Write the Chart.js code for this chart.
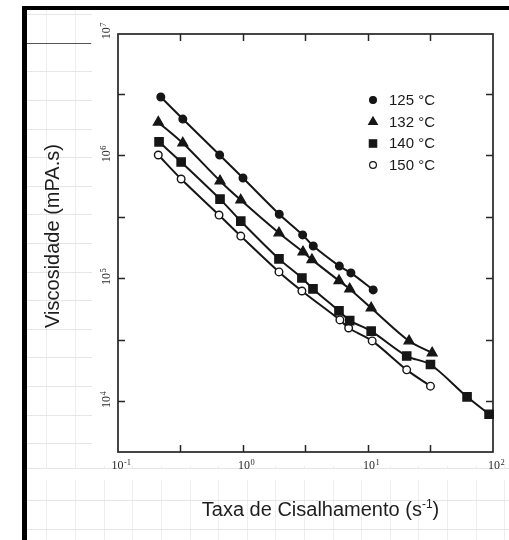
<!DOCTYPE html>
<html>
<head>
<meta charset="utf-8">
<script src="https://cdn.jsdelivr.net/npm/chart.js@4/dist/chart.umd.min.js"></script>
<style>
  html, body { margin: 0; padding: 0; background: #fff; }
  #page { position: relative; width: 509px; height: 540px; overflow: hidden; }
  #sheet {
    position: absolute; left: 27px; top: 10px; right: 0; bottom: 0;
    background-image:
      repeating-linear-gradient(to bottom, transparent 0, transparent 4.2px, #e6e6e6 4.2px, #e6e6e6 5.2px, transparent 5.2px, transparent 28.6px),
      repeating-linear-gradient(to right, transparent 0, transparent 19.5px, #eeeeee 19.5px, #eeeeee 20.5px, transparent 20.5px, transparent 28.6px);
  }
  #fig { position: absolute; left: 92px; top: 10px; width: 417px; height: 456px; background: #fff; }
  #figLow { position: absolute; left: 27px; top: 466px; width: 482px; height: 14px; background: linear-gradient(to bottom, transparent 0, transparent 2px, #e6e6e6 2px, #e6e6e6 3px, #fff 3px); }
  #barTop { position: absolute; left: 22px; top: 6px; width: 487px; height: 4px; background: #000; }
  #barLeft { position: absolute; left: 22px; top: 6px; width: 5px; height: 534px; background: #000; }
  #rule { position: absolute; left: 27px; top: 43px; width: 64px; height: 1px; background: #555; }
  canvas { position: absolute; left: 0; top: 0; }
</style>
</head>
<body>
<div id="page">
  <div id="sheet"></div>
  <div id="fig"></div>
  <div id="figLow"></div>
  <div id="barTop"></div>
  <div id="barLeft"></div>
  <div id="rule"></div>
  <canvas id="c" width="509" height="540"></canvas>
</div>
<script>
// shear rate (1/s) and viscosity (mPa.s)
const rate125 = [0.22, 0.33, 0.65, 1.0, 1.95, 3.0, 3.65, 5.9, 7.3, 11]
const visc125 = [2.96e6, 1.96e6, 1.0e6, 6.5e5, 3.3e5, 2.24e5, 1.82e5, 1.25e5, 1.1e5, 8.0e4]

const rate132 = [0.21, 0.33, 0.655, 0.96, 1.94, 3.02, 3.56, 5.86, 7.14, 10.6, 21.3, 32.6]
const visc132 = [1.85e6, 1.25e6, 6.15e5, 4.3e5, 2.32e5, 1.63e5, 1.41e5, 9.5e4, 8.15e4, 5.7e4, 3.07e4, 2.46e4]

const rate140 = [0.213, 0.32, 0.655, 0.96, 1.94, 2.96, 3.63, 5.86, 7.14, 10.6, 20.4, 31.6, 62, 93]
const visc140 = [1.28e6, 8.77e5, 4.38e5, 2.9e5, 1.43e5, 1.0e5, 8.15e4, 5.4e4, 4.5e4, 3.7e4, 2.32e4, 1.98e4, 1.08e4, 7.8e3]

const rate150 = [0.21, 0.32, 0.643, 0.96, 1.94, 2.96, 5.96, 7.0, 10.8, 20.4, 31.6]
const visc150 = [1.0e6, 6.38e5, 3.25e5, 2.19e5, 1.12e5, 7.84e4, 4.56e4, 3.92e4, 3.08e4, 1.79e4, 1.32e4]

const seriesLabels = ['125 °C', '132 °C', '140 °C', '150 °C']

// axis ticks: decades and half decades
const xTicks = [0.1, 0.316, 1, 3.16, 10, 31.6, 100]
const xTickLabels = [['10', '-1'], null, ['10', '0'], null, ['10', '1'], null, ['10', '2']]
const yTicks = [1e4, 3.16e4, 1e5, 3.16e5, 1e6, 3.16e6, 1e7]
const yTickLabels = [['10', '4'], null, ['10', '5'], null, ['10', '6'], null, ['10', '7']]

const ink = '#161616'

function pairs(xs, ys) {
  return xs.map((x, i) => ({ x: x, y: ys[i] }))
}

function series(label, xs, ys, style, radius, fill) {
  return {
    label: label,
    data: pairs(xs, ys),
    showLine: true,
    borderColor: ink,
    borderWidth: 2,
    tension: 0.3,
    pointStyle: style,
    pointRadius: radius,
    pointHoverRadius: radius,
    pointBackgroundColor: fill,
    pointBorderColor: ink,
    pointBorderWidth: 1.4,
    clip: 10
  }
}

// draws "10" with a raised exponent, centred on x
function drawPow(ctx, base, exp, x, y) {
  ctx.font = '12px "Liberation Serif", "DejaVu Serif", serif'
  const wb = ctx.measureText(base).width
  ctx.font = '8.5px "Liberation Serif", "DejaVu Serif", serif'
  const we = ctx.measureText(exp).width
  const left = x - (wb + we) / 2
  ctx.textAlign = 'left'
  ctx.textBaseline = 'alphabetic'
  ctx.font = '12px "Liberation Serif", "DejaVu Serif", serif'
  ctx.fillText(base, left, y)
  ctx.font = '8.5px "Liberation Serif", "DejaVu Serif", serif'
  ctx.fillText(exp, left + wb + 0.5, y - 4.5)
}

const framePlugin = {
  id: 'frame',
  beforeDatasetsDraw(chart) {
    const ctx = chart.ctx
    const a = chart.chartArea
    const xs = chart.scales.x
    const ys = chart.scales.y
    ctx.save()
    ctx.strokeStyle = '#262626'
    ctx.lineWidth = 1.7
    ctx.strokeRect(a.left, a.top, a.right - a.left, a.bottom - a.top)

    ctx.lineWidth = 1.5
    ctx.beginPath()
    xTicks.forEach((v, i) => {
      if (i === 0 || i === xTicks.length - 1) return
      const px = Math.round(xs.getPixelForValue(v)) + 0.5
      ctx.moveTo(px, a.bottom)
      ctx.lineTo(px, a.bottom - 7)
      ctx.moveTo(px, a.top)
      ctx.lineTo(px, a.top + 7)
    })
    yTicks.forEach((v) => {
      const py = Math.round(ys.getPixelForValue(v)) + 0.5
      if (py < a.top + 3) return
      ctx.moveTo(a.left, py)
      ctx.lineTo(a.left + 7, py)
      ctx.moveTo(a.right, py)
      ctx.lineTo(a.right - 7, py)
    })
    ctx.stroke()

    ctx.fillStyle = '#2a2a2a'
    xTicks.forEach((v, i) => {
      const lab = xTickLabels[i]
      if (!lab) return
      drawPow(ctx, lab[0], lab[1], xs.getPixelForValue(v) + 3, a.bottom + 17)
    })
    yTicks.forEach((v, i) => {
      const lab = yTickLabels[i]
      if (!lab) return
      ctx.save()
      ctx.translate(a.left - 8, ys.getPixelForValue(v) - 1)
      ctx.rotate(-Math.PI / 2)
      drawPow(ctx, lab[0], lab[1], 0, 0)
      ctx.restore()
    })

    // axis titles
    ctx.fillStyle = '#1e1e1e'
    ctx.font = '20px "Liberation Sans", Arial, sans-serif'
    ctx.save()
    ctx.translate(59, 236)
    ctx.rotate(-Math.PI / 2)
    ctx.textAlign = 'center'
    ctx.textBaseline = 'alphabetic'
    ctx.fillText('Viscosidade (mPA.s)', 0, 0)
    ctx.restore()

    const t1 = 'Taxa de Cisalhamento (s'
    const t2 = '-1'
    const t3 = ')'
    ctx.font = '20px "Liberation Sans", Arial, sans-serif'
    const w1 = ctx.measureText(t1).width
    const w3 = ctx.measureText(t3).width
    ctx.font = '12px "Liberation Sans", Arial, sans-serif'
    const w2 = ctx.measureText(t2).width
    let x0 = 320.5 - (w1 + w2 + w3) / 2
    ctx.textAlign = 'left'
    ctx.font = '20px "Liberation Sans", Arial, sans-serif'
    ctx.fillText(t1, x0, 516)
    ctx.font = '12px "Liberation Sans", Arial, sans-serif'
    ctx.fillText(t2, x0 + w1, 508)
    ctx.font = '20px "Liberation Sans", Arial, sans-serif'
    ctx.fillText(t3, x0 + w1 + w2, 516)
    ctx.restore()
  },
  afterDatasetsDraw(chart) {
    // legend in the upper right of the plot
    const ctx = chart.ctx
    const rows = [100, 122, 143.5, 165]
    ctx.save()
    chart.data.datasets.forEach((ds, i) => {
      const y = rows[i]
      ctx.fillStyle = ds.pointBackgroundColor
      ctx.strokeStyle = ink
      ctx.lineWidth = 1.2
      const r = ds.pointStyle === 'circle' ? 3.4 : ds.pointRadius - 0.6
      if (Chart.helpers && Chart.helpers.drawPoint) {
        Chart.helpers.drawPoint(ctx, { pointStyle: ds.pointStyle, radius: r, rotation: 0, borderWidth: 1.2 }, 373, y)
      } else {
        ctx.beginPath()
        ctx.arc(373, y, r, 0, Math.PI * 2)
        ctx.fill()
        ctx.stroke()
      }
      ctx.fillStyle = '#1a1a1a'
      ctx.font = '15px "Liberation Sans", Arial, sans-serif'
      ctx.textAlign = 'left'
      ctx.textBaseline = 'middle'
      ctx.fillText(ds.label, 389, y + 0.5)
    })
    ctx.restore()
  }
}

new Chart(document.getElementById('c').getContext('2d'), {
  type: 'scatter',
  data: {
    datasets: [
      series(seriesLabels[0], rate125, visc125, 'circle', 3.8, ink),
      series(seriesLabels[1], rate132, visc132, 'triangle', 5.6, ink),
      series(seriesLabels[2], rate140, visc140, 'rect', 5.8, ink),
      series(seriesLabels[3], rate150, visc150, 'circle', 3.8, '#ffffff')
    ]
  },
  options: {
    responsive: false,
    animation: false,
    events: [],
    layout: { padding: { left: 118, right: 16, top: 34, bottom: 88 } },
    plugins: { legend: { display: false }, tooltip: { enabled: false } },
    scales: {
      x: { type: 'logarithmic', min: 0.1, max: 100, display: false },
      y: { type: 'logarithmic', min: Math.pow(10, 3.585), max: Math.pow(10, 6.984), display: false }
    }
  },
  plugins: [framePlugin]
})
</script>
</body>
</html>
